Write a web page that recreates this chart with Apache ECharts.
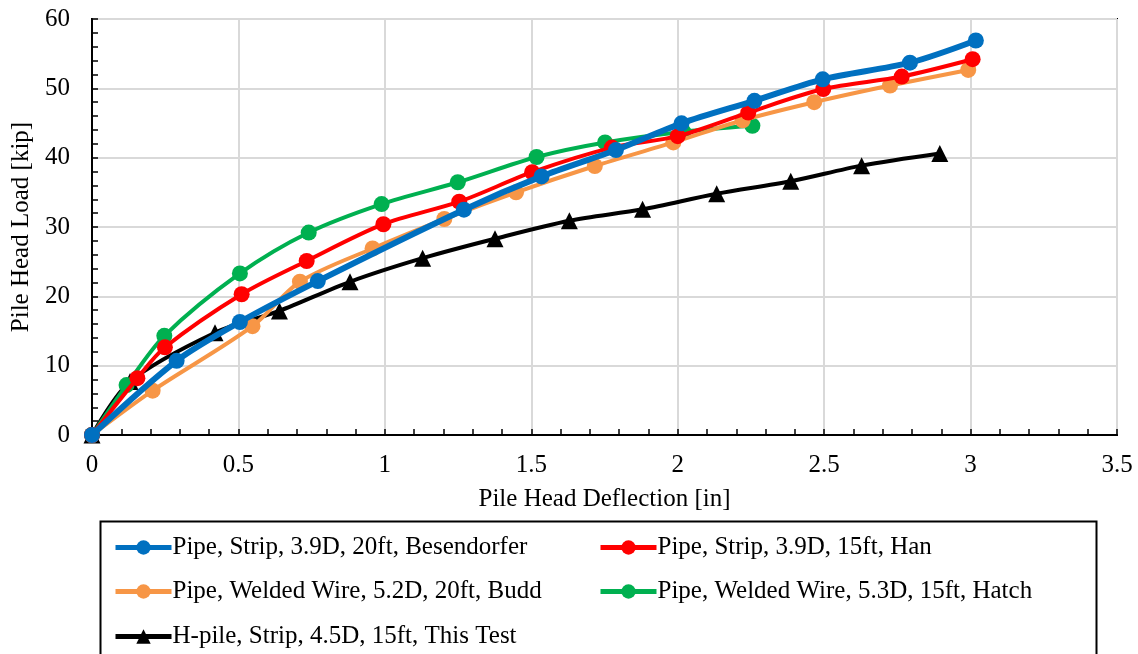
<!DOCTYPE html>
<html>
<head>
<meta charset="utf-8">
<script src="https://cdn.jsdelivr.net/npm/echarts@6/dist/echarts.min.js"></script>
<style>
html,body{margin:0;padding:0;background:#fff;}
#chart{width:1138px;height:654px;}
</style>
</head>
<body>
<div id="chart"></div>
<script>
// ---- data ----
const seriesNames = [
  'Pipe, Strip, 3.9D, 20ft, Besendorfer',
  'Pipe, Strip, 3.9D, 15ft, Han',
  'Pipe, Welded Wire, 5.2D, 20ft, Budd',
  'Pipe, Welded Wire, 5.3D, 15ft, Hatch',
  'H-pile, Strip, 4.5D, 15ft, This Test'
];
const xBesendorfer = [0, 0.289, 0.505, 0.771, 1.27, 1.535, 1.789, 2.013, 2.262, 2.495, 2.793, 3.018];
const yBesendorfer = [0, 10.7, 16.3, 22.2, 32.5, 37.3, 41.1, 44.95, 48.2, 51.3, 53.7, 56.9];
const xHan = [0, 0.155, 0.249, 0.511, 0.733, 0.995, 1.254, 1.503, 1.775, 2.0, 2.241, 2.497, 2.765, 3.007];
const yHan = [0, 8.2, 12.65, 20.3, 25.1, 30.4, 33.65, 37.9, 41.45, 43.1, 46.5, 49.9, 51.7, 54.2];
const xBudd = [0, 0.207, 0.548, 0.71, 0.958, 1.203, 1.448, 1.717, 1.985, 2.222, 2.466, 2.725, 2.992];
const yBudd = [0, 6.4, 15.7, 22.1, 26.9, 31.15, 35.0, 38.8, 42.2, 45.4, 48.0, 50.4, 52.65];
const xHatch = [0, 0.118, 0.247, 0.505, 0.74, 0.989, 1.249, 1.518, 1.752, 2.019, 2.255];
const yHatch = [0, 7.2, 14.3, 23.3, 29.2, 33.3, 36.45, 40.1, 42.2, 43.75, 44.6];
const xThisTest = [0, 0.13, 0.42, 0.64, 0.881, 1.129, 1.376, 1.63, 1.88, 2.133, 2.386, 2.628, 2.895];
const yThisTest = [0, 7.7, 14.75, 17.9, 22.1, 25.5, 28.3, 30.9, 32.55, 34.8, 36.6, 38.85, 40.6];
const xTickLabels = ['0', '0.5', '1', '1.5', '2', '2.5', '3', '3.5'];
const yTickLabels = ['0', '10', '20', '30', '40', '50', '60'];
const xTitle = 'Pile Head Deflection [in]';
const yTitle = 'Pile Head Load [kip]';

// ---- build ----
const zip = (xs, ys) => xs.map((x, i) => [x, ys[i]]);
const dataSets = [
  zip(xBesendorfer, yBesendorfer),
  zip(xHan, yHan),
  zip(xBudd, yBudd),
  zip(xHatch, yHatch),
  zip(xThisTest, yThisTest)
];
const colors = ['#0070C0', '#FF0000', '#F79646', '#00B050', '#000000'];
const widths = [6, 4, 4, 4, 4];
const symbols = ['circle', 'circle', 'circle', 'circle', 'triangle'];
const symSizes = [16, 16, 16, 16, 17];
const FONT = 'Liberation Serif';
const FS = 25;

const series = seriesNames.map((name, i) => ({
  name: name,
  type: 'line',
  data: dataSets[i],
  smooth: 0.3,
  symbol: symbols[i],
  symbolSize: symSizes[i],
  showAllSymbol: true,
  lineStyle: { color: colors[i], width: widths[i] },
  itemStyle: { color: colors[i] },
  z: 10 - i,
  animation: false
}));

// legend positions (one legend per item)
const legendPos = [
  { left: 113, top: 535 },
  { left: 598, top: 535 },
  { left: 113, top: 579 },
  { left: 598, top: 579 },
  { left: 113, top: 624 }
];
const legends = seriesNames.map((name, i) => ({
  data: [name],
  left: legendPos[i].left,
  top: legendPos[i].top,
  orient: 'horizontal',
  itemWidth: 56,
  itemHeight: 18,
  itemGap: 0,
  padding: 0,
  lineStyle: { width: 5 },
  textStyle: { fontFamily: FONT, fontSize: FS, color: '#000', padding: [0, 0, 0, -4] },
  selectedMode: false
}));

const option = {
  animation: false,
  backgroundColor: '#fff',
  grid: { left: 92, right: 21, top: 19, bottom: 219, show: true, borderColor: '#000', borderWidth: 2 },
  xAxis: {
    type: 'value', min: 0, max: 3.5, interval: 0.5,
    name: xTitle, nameLocation: 'middle', nameGap: 52,
    nameTextStyle: { fontFamily: FONT, fontSize: FS, color: '#000' },
    axisLine: { show: true, onZero: false, lineStyle: { color: '#000', width: 2 } },
    axisTick: { show: true, inside: true, length: 6, lineStyle: { color: '#000', width: 1.5 } },
    minorTick: { show: true, splitNumber: 5, length: 6, lineStyle: { color: '#000', width: 1.5 } },
    axisLabel: { fontFamily: FONT, fontSize: FS, color: '#000', margin: 18,
      formatter: (v) => xTickLabels[Math.round(v / 0.5)] },
    splitLine: { show: true, lineStyle: { color: '#D9D9D9', width: 2 } }
  },
  yAxis: {
    type: 'value', min: 0, max: 60, interval: 10,
    name: yTitle, nameLocation: 'middle', nameGap: 58, nameRotate: 90,
    nameTextStyle: { fontFamily: FONT, fontSize: FS, color: '#000' },
    axisLine: { show: true, onZero: false, lineStyle: { color: '#000', width: 2 } },
    axisTick: { show: true, inside: true, length: 6, lineStyle: { color: '#000', width: 1.5 } },
    minorTick: { show: true, splitNumber: 5, length: 6, lineStyle: { color: '#000', width: 1.5 } },
    axisLabel: { fontFamily: FONT, fontSize: FS, color: '#000', margin: 22,
      formatter: (v) => yTickLabels[Math.round(v / 10)] },
    splitLine: { show: true, lineStyle: { color: '#D9D9D9', width: 2 } }
  },
  legend: legends,
  graphic: [{
    type: 'rect', left: 98, top: 519,
    shape: { width: 996, height: 150 },
    style: { fill: 'none', stroke: '#000', lineWidth: 2 },
    z: -1
  }],
  series: series
};

const chart = echarts.init(document.getElementById('chart'), null, { renderer: 'canvas' });
chart.setOption(option);
</script>
</body>
</html>
